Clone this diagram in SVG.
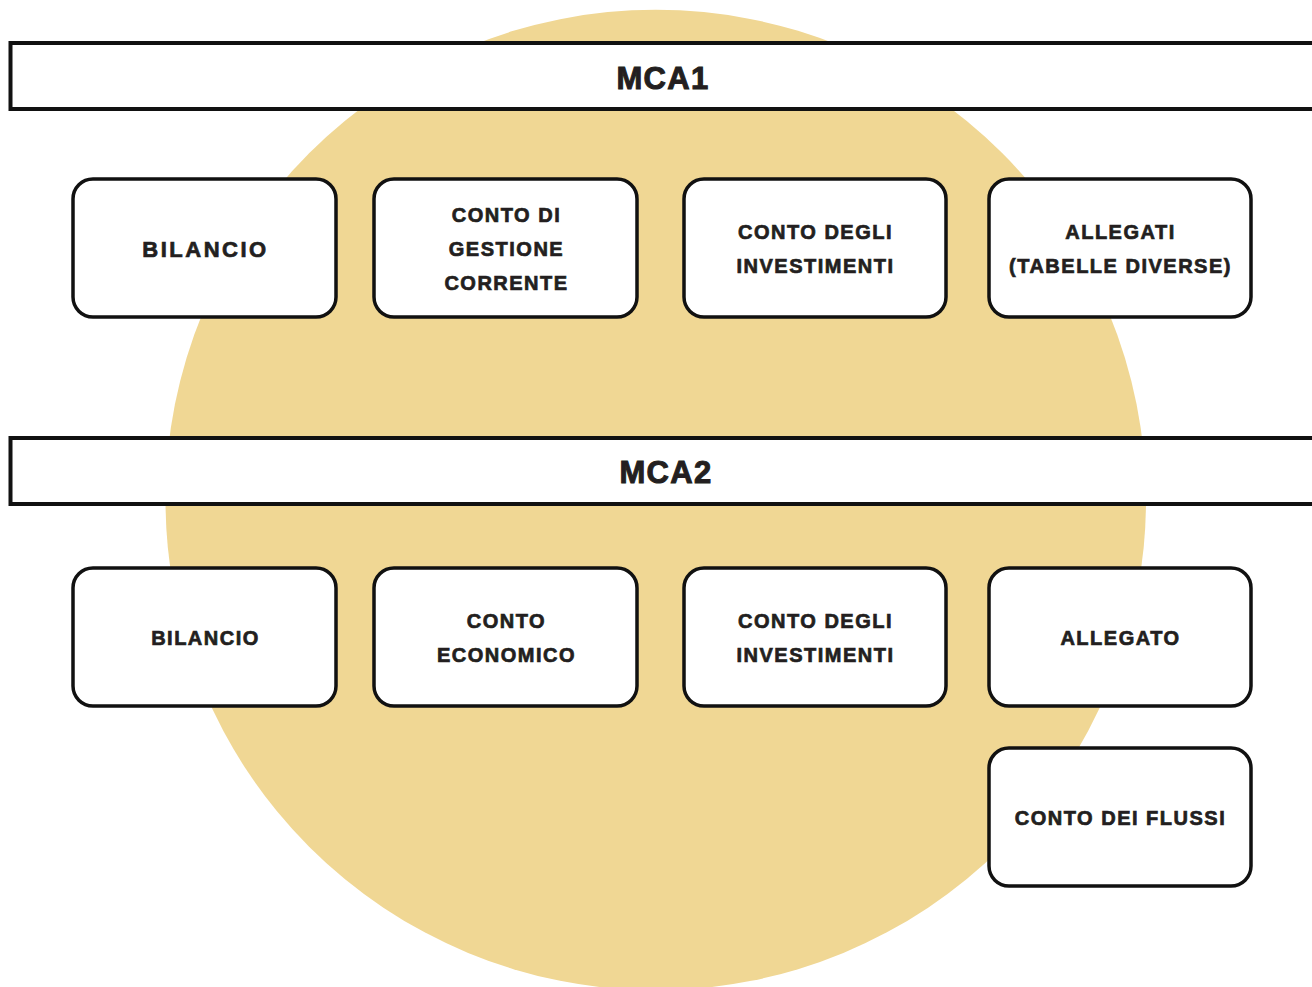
<svg xmlns="http://www.w3.org/2000/svg" width="1312" height="987" viewBox="0 0 1312 987">
<style>
.bar{fill:#ffffff;stroke:#111111;stroke-width:4}
.box{fill:#ffffff;stroke:#111111;stroke-width:3.5}
.t{font-family:"Liberation Sans",Arial,sans-serif;font-weight:bold;fill:#231f20;stroke:#231f20;stroke-width:0.7px;text-anchor:middle;font-size:20px;letter-spacing:1.5px}
.h{font-size:31px;letter-spacing:1.3px;stroke-width:1px}
.big{font-size:22px;letter-spacing:2.5px}
</style>
<rect width="1312" height="987" fill="#ffffff"/>
<circle id="background-circle" cx="655.75" cy="500" r="490.25" fill="#f0d794"/>
<g id="connectors"></g>
<g id="mca1"><rect class="bar" x="10.5" y="43" width="1320" height="66"/><text class="t h" x="663" y="89">MCA1</text></g>
<g id="mca1-bilancio"><rect class="box" x="73" y="179" width="263" height="138" rx="20"/><text class="t big" x="205.5" y="257">BILANCIO</text></g>
<g id="mca1-conto-gestione"><rect class="box" x="374" y="179" width="263" height="138" rx="20"/><text class="t" x="506.5" y="222">CONTO DI</text><text class="t" x="506.5" y="256">GESTIONE</text><text class="t" x="506.5" y="290">CORRENTE</text></g>
<g id="mca1-conto-investimenti"><rect class="box" x="684" y="179" width="262" height="138" rx="20"/><text class="t" x="815.5" y="239">CONTO DEGLI</text><text class="t" x="815.5" y="273">INVESTIMENTI</text></g>
<g id="mca1-allegati"><rect class="box" x="989" y="179" width="262" height="138" rx="20"/><text class="t" x="1120.5" y="239">ALLEGATI</text><text class="t" x="1120.5" y="273">(TABELLE DIVERSE)</text></g>
<g id="mca2"><rect class="bar" x="10.5" y="438" width="1320" height="66"/><text class="t h" x="666" y="483">MCA2</text></g>
<g id="mca2-bilancio"><rect class="box" x="73" y="568" width="263" height="138" rx="20"/><text class="t" x="205.5" y="645">BILANCIO</text></g>
<g id="mca2-conto-economico"><rect class="box" x="374" y="568" width="263" height="138" rx="20"/><text class="t" x="506.5" y="628">CONTO</text><text class="t" x="506.5" y="662">ECONOMICO</text></g>
<g id="mca2-conto-investimenti"><rect class="box" x="684" y="568" width="262" height="138" rx="20"/><text class="t" x="815.5" y="628">CONTO DEGLI</text><text class="t" x="815.5" y="662">INVESTIMENTI</text></g>
<g id="mca2-allegato"><rect class="box" x="989" y="568" width="262" height="138" rx="20"/><text class="t" x="1120.5" y="645">ALLEGATO</text></g>
<g id="mca2-conto-flussi"><rect class="box" x="989" y="748" width="262" height="138" rx="20"/><text class="t" x="1120.5" y="825">CONTO DEI FLUSSI</text></g>
</svg>
